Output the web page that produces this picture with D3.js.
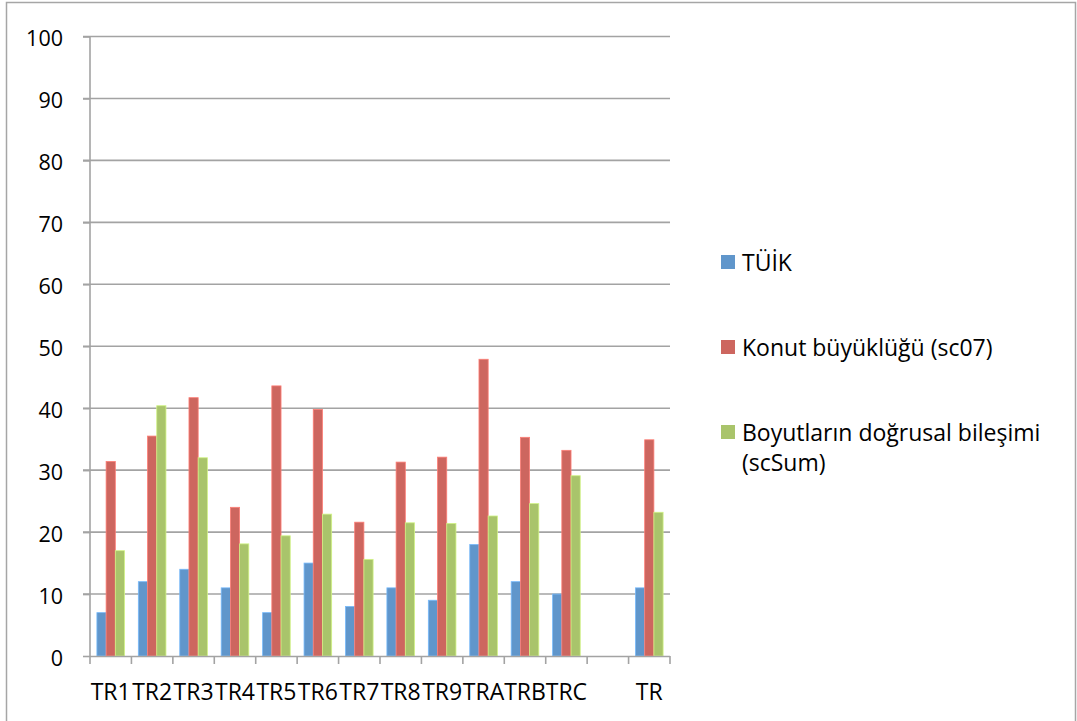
<!DOCTYPE html>
<html>
<head>
<meta charset="utf-8">
<script src="https://cdn.jsdelivr.net/npm/d3@7"></script>
<style>
  html, body { margin: 0; padding: 0; background: #fff; }
  svg { display: block; }
  text { font-family: "Open Sans", Lato, sans-serif; fill: #000; }
</style>
</head>
<body>
<svg id="chart" width="1077" height="721"></svg>
<script>
// Regions (empty slot separates TRC from the national total)
const categories = ["TR1", "TR2", "TR3", "TR4", "TR5", "TR6", "TR7", "TR8", "TR9", "TRA", "TRB", "TRC", "", "TR"];
const seriesNames = ["TÜİK", "Konut büyüklüğü (sc07)", "Boyutların doğrusal bileşimi (scSum)"];
const tuik  = [7, 12, 14, 11, 7, 15, 8, 11, 9, 18, 12, 10, null, 11];
const sc07  = [31.4, 35.5, 41.7, 24, 43.6, 39.8, 21.6, 31.3, 32.1, 47.9, 35.3, 33.2, null, 34.9];
const scSum = [17, 40.4, 32, 18.1, 19.4, 22.9, 15.6, 21.5, 21.4, 22.6, 24.6, 29.1, null, 23.2];
const yTicks = [0, 10, 20, 30, 40, 50, 60, 70, 80, 90, 100];
const colors = ["#6096CB", "#CD665F", "#A9C46B"];

const FONT = "'Open Sans', Lato, sans-serif";
const svg = d3.select("#chart");

// outer chart frame
svg.append("rect")
  .attr("x", 6.5).attr("y", 2.5)
  .attr("width", 1069).attr("height", 730)
  .attr("fill", "none").attr("stroke", "#a6a6a6").attr("stroke-width", 1.5);

const plot = { left: 90, right: 670, top: 36.5, bottom: 656 };

const x = d3.scaleBand().domain(d3.range(categories.length))
  .range([plot.left, plot.right]).paddingInner(0).paddingOuter(0);
const y = d3.scaleLinear().domain([0, 100]).range([plot.bottom, plot.top]);

const gridColor = "#a3a3a3";

// horizontal gridlines
svg.append("g").selectAll("line")
  .data(yTicks.filter(d => d > 0))
  .join("line")
  .attr("x1", plot.left - 7).attr("x2", plot.right)
  .attr("y1", d => y(d)).attr("y2", d => y(d))
  .attr("stroke", gridColor).attr("stroke-width", 1.6);

// y axis
const yAxis = svg.append("g")
  .attr("transform", `translate(${plot.left},0)`)
  .call(d3.axisLeft(y).tickValues(yTicks).tickSize(7).tickPadding(20).tickFormat(d3.format("d")));
yAxis.select(".domain").attr("stroke", gridColor).attr("stroke-width", 1.6)
  .attr("d", `M0,${plot.top}V${plot.bottom + 1}`);
yAxis.selectAll(".tick line").attr("stroke", gridColor).attr("stroke-width", 1.6);
yAxis.selectAll(".tick text").attr("font-size", 21.5).attr("dy", "0.42em")
  .style("font-family", FONT).attr("fill", "#000");

// bars
const inner = d3.scaleBand().domain(d3.range(seriesNames.length))
  .range([0, x.bandwidth()]).paddingOuter(0.75).paddingInner(0);
const allSeries = [tuik, sc07, scSum];
allSeries.forEach((vals, s) => {
  svg.append("g").selectAll("rect")
    .data(vals.map((v, i) => ({ v, i })).filter(d => d.v !== null))
    .join("rect")
    .attr("x", d => x(d.i) + inner(s))
    .attr("width", inner.bandwidth())
    .attr("y", d => y(d.v))
    .attr("height", d => y(0) - y(d.v))
    .attr("fill", colors[s])
    .attr("stroke", d3.color(colors[s]).brighter(0.6))
    .attr("stroke-width", 0.8);
});

// x axis with ticks at category boundaries
const xAxisG = svg.append("g");
xAxisG.append("line")
  .attr("x1", plot.left).attr("x2", plot.right)
  .attr("y1", y(0) + 0.5).attr("y2", y(0) + 0.5)
  .attr("stroke", gridColor).attr("stroke-width", 1.6);
const boundaries = d3.range(categories.length + 1).map(i => plot.left + i * x.step());
xAxisG.selectAll("line.tk").data(boundaries).join("line").attr("class", "tk")
  .attr("x1", d => d).attr("x2", d => d)
  .attr("y1", y(0)).attr("y2", y(0) + 8)
  .attr("stroke", gridColor).attr("stroke-width", 1.6);
xAxisG.selectAll("text").data(categories).join("text")
  .attr("x", (d, i) => x(i) + x.bandwidth() / 2)
  .attr("y", 700)
  .attr("text-anchor", "middle")
  .attr("font-size", 23)
  .text(d => d);

// legend
const legendRows = [
  { lines: [seriesNames[0]], y: 262 },
  { lines: ["Konut büyüklüğü (sc07)"], y: 347 },
  { lines: ["Boyutların doğrusal bileşimi", "(scSum)"], y: 432 }
];
const lg = svg.append("g");
legendRows.forEach((r, s) => {
  lg.append("rect")
    .attr("x", 721).attr("y", r.y - 7)
    .attr("width", 14).attr("height", 14)
    .attr("fill", colors[s]);
  const t = lg.append("text")
    .attr("x", 742).attr("y", r.y + 9)
    .attr("font-size", 23);
  r.lines.forEach((ln, k) => {
    t.append("tspan").attr("x", 742).attr("dy", k === 0 ? 0 : 30).text(ln);
  });
});
</script>
</body>
</html>
